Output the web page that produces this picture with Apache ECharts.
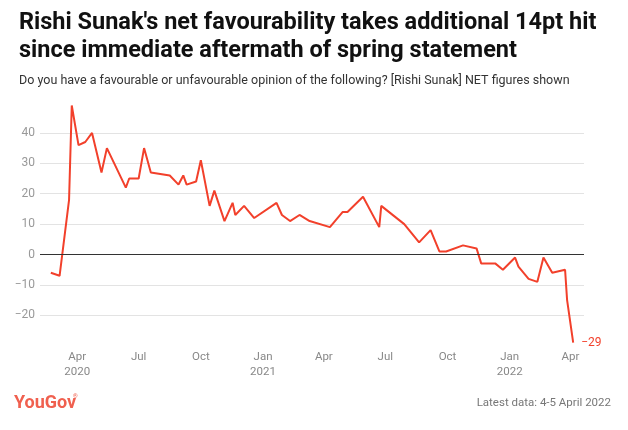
<!DOCTYPE html>
<html><head><meta charset="utf-8">
<script src="https://cdn.jsdelivr.net/npm/echarts@6/dist/echarts.min.js"></script>
<style>html,body{margin:0;padding:0;background:#fff}#c{width:628px;height:430px}</style>
</head><body><div id="c"></div>
<script>
const dates = ['2020-02-22','2020-03-06','2020-03-20','2020-03-24','2020-04-03','2020-04-13','2020-04-23','2020-05-07','2020-05-15','2020-06-12','2020-06-17','2020-07-01','2020-07-09','2020-07-19','2020-08-16','2020-08-29','2020-09-05','2020-09-10','2020-09-24','2020-10-01','2020-10-14','2020-10-21','2020-11-05','2020-11-17','2020-11-21','2020-12-04','2020-12-19','2021-01-21','2021-01-29','2021-02-10','2021-02-24','2021-03-11','2021-04-10','2021-04-29','2021-05-06','2021-05-29','2021-06-22','2021-06-25','2021-07-29','2021-08-20','2021-09-06','2021-09-19','2021-09-29','2021-10-24','2021-11-13','2021-11-20','2021-12-11','2021-12-22','2022-01-09','2022-01-14','2022-01-29','2022-02-11','2022-02-20','2022-03-05','2022-03-24','2022-03-27','2022-04-05'];
const values = [-6,-7,18,49,36,37,40,27,35,22,25,25,35,27,26,23,26,23,24,31,16,21,11,17,13,16,12,17,13,11,13,11,9,14,14,19,9,16,10,4,8,1,1,3,2,-3,-3,-5,-1,-4,-8,-9,-1,-6,-5,-15,-29];
const tickDates = ['2020-04-01','2020-07-01','2020-10-01','2021-01-01','2021-04-01','2021-07-01','2021-10-01','2022-01-01','2022-04-01'];
const tickLabels = ['Apr\n2020','Jul','Oct','Jan\n2021','Apr','Jul','Oct','Jan\n2022','Apr'];
const xRange = ['2020-02-06','2022-04-21'];
const yMin = -30, yMax = 50, yStep = 10;

function ts(s){const p=s.split('-').map(Number);return Date.UTC(p[0],p[1]-1,p[2]);}
const tickTs = tickDates.map(ts);
const minus = v => String(v).replace('-', '\u2212');

const chart = echarts.init(document.getElementById('c'));
chart.setOption({
  backgroundColor:'#fff',
  animation:false,
  textStyle:{fontFamily:'Roboto'},
  title:[
    {text:"Rishi Sunak's net favourability takes additional 14pt hit\nsince immediate aftermath of spring statement",
     left:14, top:4, textStyle:{fontFamily:'Roboto', fontWeight:'bold', fontSize:23.5, lineHeight:28, color:'#111'}},
    {text:'Do you have a favourable or unfavourable opinion of the following? [Rishi Sunak] NET figures shown',
     left:14, top:69, textStyle:{fontFamily:'Roboto', fontWeight:'normal', fontSize:12.5, color:'#333'}}
  ],
  graphic:[
    {type:'text', left:14, top:394, style:{text:'YouGov', font:'bold 18px Roboto', fill:'#f0604f'}},
    {type:'text', left:73, top:393, style:{text:'\u00ae', font:'6px Roboto', fill:'#f0604f'}},
    {type:'text', right:17, top:397, style:{text:'Latest data: 4-5 April 2022', font:'11.5px Roboto', fill:'#777'}}
  ],
  grid:{left:40, right:44, top:102.5, bottom:84.3, containLabel:false},
  xAxis:{type:'value', min:ts(xRange[0]), max:ts(xRange[1]),
    axisLine:{show:false}, axisTick:{show:false}, splitLine:{show:false},
    axisLabel:{customValues:tickTs, color:'#888', fontSize:11.5, lineHeight:15, margin:4,
      formatter:v=>{const i=tickTs.indexOf(v);return i>=0?tickLabels[i]:'';}}},
  yAxis:{type:'value', min:yMin, max:yMax, interval:yStep,
    axisLine:{show:false}, axisTick:{show:false},
    splitLine:{lineStyle:{color:'#e3e3e3', width:1}, showMinLine:false, showMaxLine:false},
    axisLabel:{color:'#999', fontSize:12, margin:5, showMinLabel:false, showMaxLabel:false, formatter:minus}},
  series:[{type:'line', data:dates.map((d,i)=>[ts(d),values[i]]), symbol:'none',
    lineStyle:{color:'#f2402b', width:2}, color:'#f2402b',
    endLabel:{show:true, formatter:p=>minus(p.value[1]), color:'#f2402b', fontSize:12, distance:8},
    markLine:{silent:true, symbol:'none', label:{show:false}, lineStyle:{color:'#333', width:1, type:'solid'}, data:[{yAxis:0}]}
  }]
});
</script></body></html>
